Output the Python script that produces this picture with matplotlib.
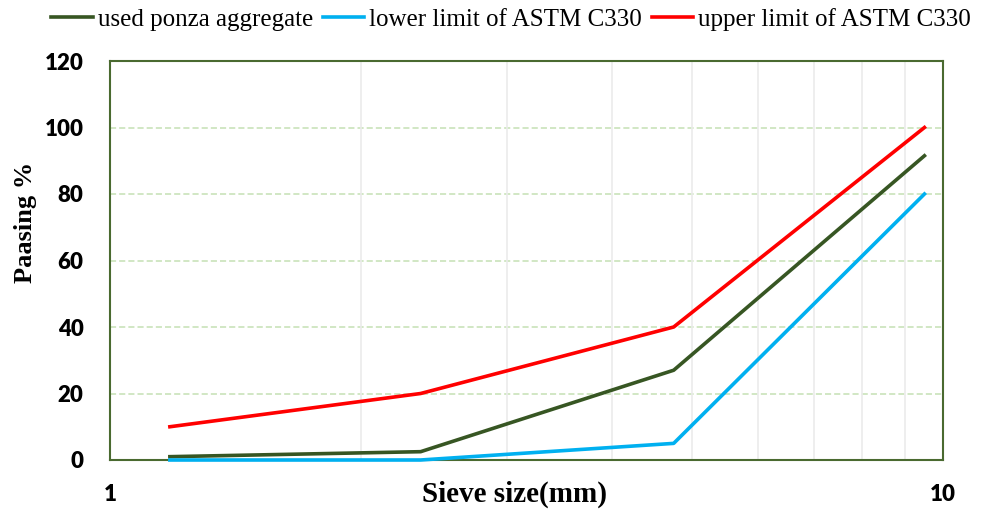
import matplotlib.pyplot as plt
from matplotlib.ticker import FixedLocator, NullFormatter

# sieve sizes (mm) and passing percentages
sieve = [1.18, 2.36, 4.75, 9.5]
ponza = [1.0, 2.5, 27.0, 91.5]
lower = [0, 0, 5, 80]
upper = [10, 20, 40, 100]

fig = plt.figure(figsize=(9.83, 5.09), dpi=100)
ax = fig.add_axes([110 / 983, 1 - 460 / 509, 833 / 983, 399 / 509])

ax.plot(sieve, ponza, color='#375623', lw=2.6, label='used ponza aggregate', clip_on=False, zorder=3)
ax.plot(sieve, lower, color='#00b0f0', lw=2.6, label='lower limit of ASTM C330', clip_on=False, zorder=4)
ax.plot(sieve, upper, color='#ff0000', lw=2.6, label='upper limit of ASTM C330', clip_on=False, zorder=5)

ax.set_xscale('log')
ax.set_xlim(1, 10)
ax.set_ylim(0, 120)
ax.set_yticks(range(0, 121, 20))
ax.xaxis.set_major_locator(FixedLocator([1, 10]))
ax.xaxis.set_minor_locator(FixedLocator(range(2, 10)))
ax.xaxis.set_minor_formatter(NullFormatter())
ax.set_xticklabels(['1', '10'])

ax.tick_params(axis='both', which='both', length=0)
ax.tick_params(axis='y', pad=19)
ax.tick_params(axis='x', pad=17)
for t in ax.get_xticklabels() + ax.get_yticklabels():
    t.set_fontfamily('Lato')
    t.set_fontweight('heavy')
    t.set_fontsize(16)

# grid
for y in range(20, 101, 20):
    ax.axhline(y, color='#c5e0b4', lw=1.1, ls=(0, (4, 2)), zorder=1)
ax.grid(True, which='minor', axis='x', color='#ebebeb', lw=1.2, zorder=0)

for s in ax.spines.values():
    s.set_color('#4a6a30')
    s.set_linewidth(1.5)

ax.set_xlabel('Sieve size(mm)', family='Liberation Serif', fontweight='bold', fontsize=21, va='top')
ax.xaxis.set_label_coords(0.485, -0.052)
ax.set_ylabel('Paasing %', family='Liberation Serif', fontweight='bold', fontsize=19)
ax.yaxis.set_label_coords(-0.088, 0.595)

fig.legend(loc='center', bbox_to_anchor=(0.52, 0.962), ncol=3, frameon=False,
           prop={'family': 'Liberation Serif', 'size': 18},
           handlelength=1.65, handletextpad=0.2, columnspacing=0.4, borderpad=0)

fig.savefig('out.png', dpi=100)
